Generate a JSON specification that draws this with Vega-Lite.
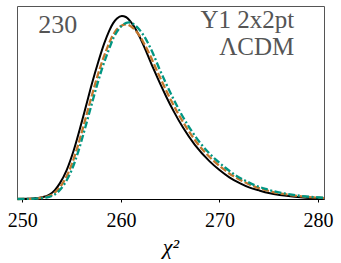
{
  "$schema": "https://vega.github.io/schema/vega-lite/v6.json",
  "width": 307,
  "height": 193,
  "autosize": {"type": "none"},
  "padding": {"left": 17, "top": 6, "right": 17, "bottom": 64},
  "background": "white",
  "config": {
    "view": {"stroke": "#555555", "strokeWidth": 1},
    "font": "Times New Roman"
  },
  "datasets": {
    "black": [
      {"x": 249.5, "y": 0}, {"x": 250.5, "y": 0.001}, {"x": 251.5, "y": 0.005}, {"x": 252.3, "y": 0.013}, {"x": 252.8, "y": 0.024},
      {"x": 253.3, "y": 0.046}, {"x": 253.8, "y": 0.081}, {"x": 254.5, "y": 0.15}, {"x": 255.2, "y": 0.25}, {"x": 255.9, "y": 0.375},
      {"x": 256.5, "y": 0.49}, {"x": 257.1, "y": 0.605}, {"x": 257.7, "y": 0.71}, {"x": 258.3, "y": 0.805},
      {"x": 258.8, "y": 0.87}, {"x": 259.2, "y": 0.91}, {"x": 259.6, "y": 0.935}, {"x": 260.1, "y": 0.948},
      {"x": 260.5, "y": 0.943}, {"x": 261.0, "y": 0.918}, {"x": 261.5, "y": 0.88}, {"x": 261.9, "y": 0.84},
      {"x": 262.6, "y": 0.76}, {"x": 263.3, "y": 0.675}, {"x": 264.0, "y": 0.595}, {"x": 264.6, "y": 0.53},
      {"x": 265.4, "y": 0.45}, {"x": 266.3, "y": 0.37}, {"x": 267.5, "y": 0.28}, {"x": 269.0, "y": 0.195},
      {"x": 270.0, "y": 0.15}, {"x": 271.0, "y": 0.112}, {"x": 272.1, "y": 0.081}, {"x": 273.0, "y": 0.06},
      {"x": 274.1, "y": 0.043}, {"x": 275.0, "y": 0.031}, {"x": 276.1, "y": 0.021}, {"x": 277.2, "y": 0.014},
      {"x": 278.2, "y": 0.009}, {"x": 279.2, "y": 0.005}, {"x": 280.6, "y": 0.002}
    ],
    "orange": [
      {"x": 249.5, "y": 0}, {"x": 250.6, "y": 0.001}, {"x": 251.7, "y": 0.005}, {"x": 252.5, "y": 0.012}, {"x": 253.0, "y": 0.022},
      {"x": 253.5, "y": 0.043}, {"x": 254.05, "y": 0.078}, {"x": 254.75, "y": 0.146}, {"x": 255.45, "y": 0.245}, {"x": 256.15, "y": 0.368},
      {"x": 256.75, "y": 0.48}, {"x": 257.35, "y": 0.59}, {"x": 257.95, "y": 0.69}, {"x": 258.55, "y": 0.775},
      {"x": 259.05, "y": 0.835}, {"x": 259.5, "y": 0.873}, {"x": 259.95, "y": 0.895}, {"x": 260.5, "y": 0.905},
      {"x": 261.0, "y": 0.895}, {"x": 261.5, "y": 0.872}, {"x": 261.9, "y": 0.845}, {"x": 262.25, "y": 0.815},
      {"x": 262.95, "y": 0.745}, {"x": 263.65, "y": 0.665}, {"x": 264.35, "y": 0.588}, {"x": 264.95, "y": 0.525},
      {"x": 265.75, "y": 0.447}, {"x": 266.65, "y": 0.37}, {"x": 267.85, "y": 0.282}, {"x": 269.35, "y": 0.2},
      {"x": 270.35, "y": 0.157}, {"x": 271.35, "y": 0.12}, {"x": 272.45, "y": 0.09}, {"x": 273.35, "y": 0.068},
      {"x": 274.45, "y": 0.05}, {"x": 275.35, "y": 0.037}, {"x": 276.45, "y": 0.026}, {"x": 277.55, "y": 0.018},
      {"x": 278.55, "y": 0.012}, {"x": 279.55, "y": 0.008}, {"x": 280.6, "y": 0.005}
    ],
    "teal": [
      {"x": 249.5, "y": 0}, {"x": 250.8, "y": 0.001}, {"x": 251.9, "y": 0.004}, {"x": 252.7, "y": 0.011}, {"x": 253.2, "y": 0.02},
      {"x": 253.7, "y": 0.041}, {"x": 254.25, "y": 0.076}, {"x": 254.95, "y": 0.143}, {"x": 255.65, "y": 0.242}, {"x": 256.35, "y": 0.364},
      {"x": 256.95, "y": 0.475}, {"x": 257.55, "y": 0.585}, {"x": 258.15, "y": 0.685}, {"x": 258.75, "y": 0.77},
      {"x": 259.25, "y": 0.835}, {"x": 259.75, "y": 0.878}, {"x": 260.25, "y": 0.905}, {"x": 260.8, "y": 0.915},
      {"x": 261.3, "y": 0.905}, {"x": 261.8, "y": 0.882}, {"x": 262.2, "y": 0.855}, {"x": 262.6, "y": 0.822},
      {"x": 263.2, "y": 0.76}, {"x": 263.9, "y": 0.675}, {"x": 264.6, "y": 0.596}, {"x": 265.2, "y": 0.532},
      {"x": 266.0, "y": 0.452}, {"x": 266.9, "y": 0.374}, {"x": 268.1, "y": 0.287}, {"x": 269.6, "y": 0.205},
      {"x": 270.6, "y": 0.162}, {"x": 271.6, "y": 0.124}, {"x": 272.7, "y": 0.093}, {"x": 273.6, "y": 0.071},
      {"x": 274.7, "y": 0.052}, {"x": 275.6, "y": 0.039}, {"x": 276.7, "y": 0.028}, {"x": 277.8, "y": 0.019},
      {"x": 278.8, "y": 0.013}, {"x": 279.8, "y": 0.009}, {"x": 280.6, "y": 0.006}
    ],
    "labelLeft": [
      {"x": 251.62, "y": 0.862, "label": "230"}
    ],
    "labelRight": [
      {"x": 277.58, "y": 0.886, "label": "Y1 2x2pt"},
      {"x": 277.58, "y": 0.746, "label": "ΛCDM"}
    ]
  },
  "encoding": {
    "x": {
      "field": "x", "type": "quantitative",
      "scale": {"domain": [249.46, 280.6], "nice": false, "zero": false},
      "axis": {
        "title": "χ²", "values": [250, 260, 270, 280], "grid": false,
        "labelFont": "Times New Roman", "labelFontSize": 20, "labelColor": "black",
        "labelPadding": 8, "tickSize": 3, "tickColor": "black", "domainColor": "black",
        "titleFont": "Times New Roman", "titleFontSize": 22, "titleFontStyle": "italic",
        "titleFontWeight": "normal", "titleColor": "black", "titlePadding": 6,
        "labelFlush": false
      }
    },
    "y": {
      "field": "y", "type": "quantitative",
      "scale": {"domain": [0, 1], "nice": false, "zero": false},
      "axis": null
    }
  },
  "layer": [
    {
      "data": {"name": "black"},
      "mark": {"type": "line", "color": "black", "strokeWidth": 2, "interpolate": "monotone"}
    },
    {
      "data": {"name": "orange"},
      "mark": {"type": "line", "color": "#c4762c", "strokeWidth": 2.3, "strokeDash": [7, 2.5], "interpolate": "monotone"}
    },
    {
      "data": {"name": "teal"},
      "mark": {"type": "line", "color": "#009683", "strokeWidth": 2.3, "strokeDash": [7, 2.5, 2, 2.5], "interpolate": "monotone"}
    },
    {
      "data": {"name": "labelLeft"},
      "mark": {"type": "text", "align": "left", "baseline": "alphabetic", "color": "#555555", "font": "Times New Roman", "fontSize": 26},
      "encoding": {"text": {"field": "label"}}
    },
    {
      "data": {"name": "labelRight"},
      "mark": {"type": "text", "align": "right", "baseline": "alphabetic", "color": "#555555", "font": "Times New Roman", "fontSize": 25},
      "encoding": {"text": {"field": "label"}}
    }
  ]
}
